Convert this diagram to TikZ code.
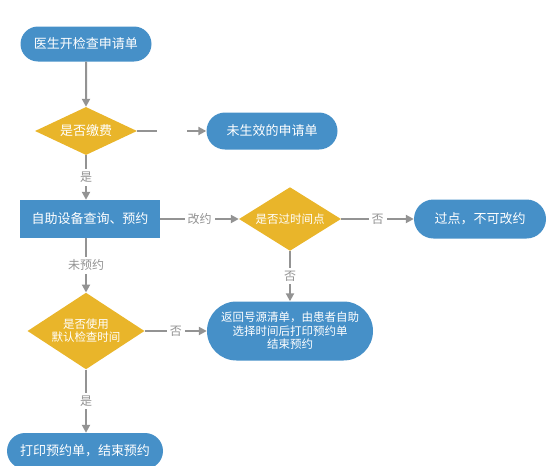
\documentclass[tikz,border=0pt]{standalone}
\usepackage{fontspec}
\setmainfont{Noto Sans CJK SC}
\usetikzlibrary{arrows.meta,positioning,shapes.geometric,shapes.misc}
\definecolor{boxblue}{HTML}{4690C8}
\definecolor{decyellow}{HTML}{E9B52A}
\definecolor{linegray}{HTML}{939393}

\begin{document}
\begin{tikzpicture}[
  x=1pt,y=-1pt,
  >={Triangle[length=8pt,width=8pt]},
  term/.style={rounded rectangle,fill=boxblue,text=white,font=\fontsize{13}{15}\selectfont,inner sep=2pt},
  proc/.style={rectangle,fill=boxblue,text=white,font=\fontsize{13}{15}\selectfont,inner sep=2pt},
  dec/.style={diamond,fill=decyellow,text=white,inner sep=-4pt,align=center},
  edge/.style={->,draw=linegray,fill=linegray,line width=2pt},
  lab/.style={fill=white,text=linegray,font=\fontsize{12}{14}\selectfont,inner sep=3pt}
]
\useasboundingbox (0,0) rectangle (552,466);

% ===================== nodes =====================
\node[term,minimum width=135pt,minimum height=35pt] (start) at (86,44) {医生开检查申请单};
\node[dec,minimum width=102pt,minimum height=48pt,font=\fontsize{13}{15}\selectfont] (paid) at (86,131) {是否缴费};
\node[term,minimum width=135pt,minimum height=37pt] (invalid) at (272,131) {未生效的申请单};
\node[proc,minimum width=140pt,minimum height=38pt] (self) at (90,219) {自助设备查询、预约};
\node[dec,minimum width=102pt,minimum height=48pt,font=\fontsize{11.5}{13}\selectfont] (late) at (290,219) {是否过时间点};
\node[term,minimum width=136pt,minimum height=39pt] (nochg) at (480,219) {过点，不可改约};
\node[dec,minimum width=117pt,minimum height=57pt,font=\fontsize{11.5}{13}\selectfont] (dflt) at (86,331) {是否使用\\默认检查时间};
\node[term,minimum width=170pt,minimum height=59pt,align=center,font=\fontsize{11.5}{13.5}\selectfont] (back) at (290,331)
  {返回号源清单，由患者自助\\选择时间后打印预约单\\结束预约};
\node[term,minimum width=160pt,minimum height=36pt] (print) at (85,451) {打印预约单，结束预约};

% ===================== connectors =====================
\draw[edge] (start) -- (paid);
\draw[edge] (paid) -- (invalid) node[lab,midway] {\phantom{否否}};
\draw[edge] (paid) -- (self.north -| paid.south) node[lab,midway] {是};
\draw[edge] (self) -- (late) node[lab,midway] {改约};
\draw[edge] (late) -- (nochg) node[lab,midway] {否};
\draw[edge] (late) -- (back) node[lab,midway] {否};
\draw[edge] (self.south -| dflt.north) -- (dflt) node[lab,midway] {未预约};
\draw[edge] (dflt) -- (back) node[lab,midway] {否};
\draw[edge] (dflt) -- (print.north -| dflt.south) node[lab,midway] {是};

\end{tikzpicture}
\end{document}
